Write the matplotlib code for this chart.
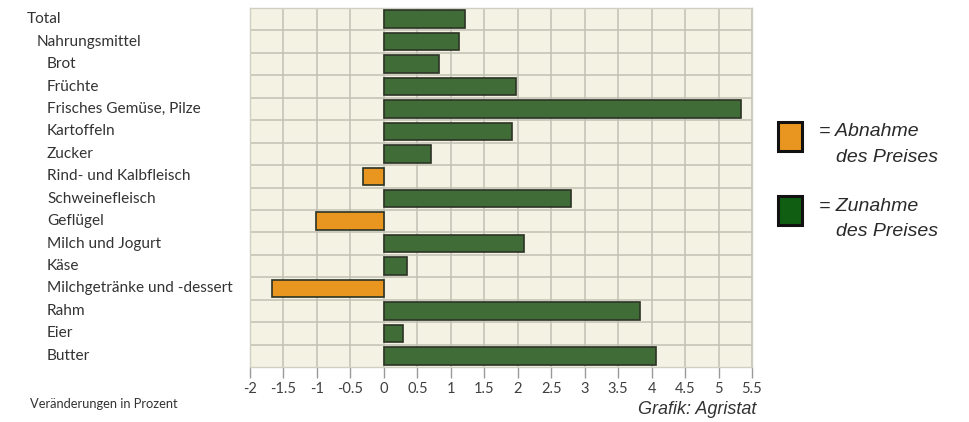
import matplotlib.pyplot as plt
from matplotlib.patches import Rectangle
from matplotlib.transforms import blended_transform_factory
import numpy as np

# Preisveränderungen in Prozent
kategorien = ["Total", "Nahrungsmittel", "Brot", "Früchte", "Frisches Gemüse, Pilze",
              "Kartoffeln", "Zucker", "Rind- und Kalbfleisch", "Schweinefleisch",
              "Geflügel", "Milch und Jogurt", "Käse", "Milchgetränke und -dessert",
              "Rahm", "Eier", "Butter"]
werte = [1.21, 1.12, 0.83, 1.98, 5.33, 1.92, 0.71, -0.31, 2.79,
         -1.01, 2.09, 0.35, -1.67, 3.82, 0.29, 4.07]
einzug = [0, 1, 2, 2, 2, 2, 2, 2, 2, 2, 2, 2, 2, 2, 2, 2]
xticks = [-2, -1.5, -1, -0.5, 0, 0.5, 1, 1.5, 2, 2.5, 3, 3.5, 4, 4.5, 5, 5.5]

GRUEN = "#3f6c37"
ORANGE = "#e8961f"
W, H = 969, 422

fig = plt.figure(figsize=(W / 100, H / 100), dpi=100)
ax = fig.add_axes([250 / W, (H - 367) / H, (752 - 250) / W, (367 - 8) / H])
ax.set_facecolor("#f4f2e3")

y = np.arange(len(kategorien))
farben = [GRUEN if v >= 0 else ORANGE for v in werte]
ax.barh(y, werte, height=0.78, color=farben, edgecolor="#2b3325", linewidth=1.2, zorder=3)

ax.set_xlim(-2, 5.5)
ax.set_ylim(len(kategorien) - 0.5, -0.5)
ax.set_xticks(xticks)
ax.set_xticklabels([f"{t:g}" for t in xticks], fontsize=10.5, color="#404040",
                   family="Lato")
ax.set_yticks(y - 0.5, minor=True)
ax.set_yticks([])
ax.grid(axis="x", which="major", color="#c0c0b4", linewidth=1.1, zorder=0)
ax.grid(axis="y", which="minor", color="#c0c0b4", linewidth=1.1, zorder=0)
ax.tick_params(axis="x", length=8, width=1, color="#999999", pad=3)
ax.tick_params(axis="y", which="both", length=0)
for s in ax.spines.values():
    s.set_color("#cfcfc4")
    s.set_linewidth(1)

# Beschriftungen links, eingerückt
trans = blended_transform_factory(fig.transFigure, ax.transData)
for i, (k, e) in enumerate(zip(kategorien, einzug)):
    fig.text((27 + 10 * e) / W, i, k, transform=trans, fontsize=11.1,
             family="Lato", color="#333333", va="center", ha="left")

fig.text(30 / W, 1 - 404 / H, "Veränderungen in Prozent", fontsize=9.3,
         family="Lato", color="#333333", va="center")
fig.text(756 / W, 1 - 410 / H, "Grafik: Agristat", fontsize=13, style="italic",
         family="Liberation Sans", color="#333333", va="center", ha="right")

# Legende
for y0, farbe, wort in [(122, ORANGE, "Abnahme"), (196, "#0f5e12", "Zunahme")]:
    fig.patches.append(Rectangle((778 / W, 1 - (y0 + 29) / H), 24 / W, 29 / H,
                                 transform=fig.transFigure, facecolor=farbe,
                                 edgecolor="#111111", linewidth=2.2))
    fig.text(819 / W, 1 - (y0 + 10) / H, "= " + wort, fontsize=14, style="italic",
             family="Liberation Sans", color="#2a2a2a", va="center")
    fig.text(836 / W, 1 - (y0 + 35) / H, "des Preises", fontsize=14, style="italic",
             family="Liberation Sans", color="#2a2a2a", va="center")

fig.savefig("out.png", dpi=100, facecolor="white")
